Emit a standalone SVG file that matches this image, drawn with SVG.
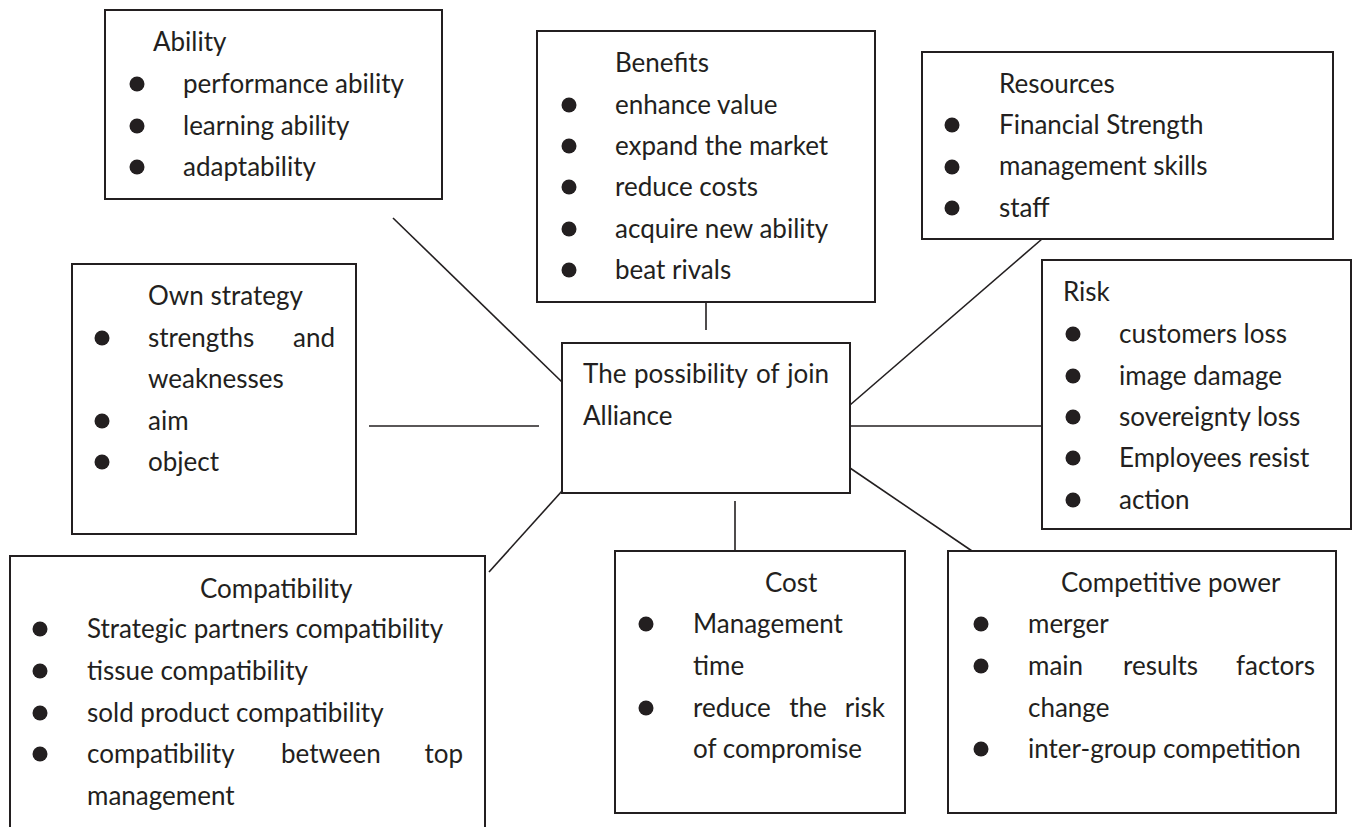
<svg xmlns="http://www.w3.org/2000/svg" width="1356" height="827" viewBox="0 0 1356 827">
<style>
.box{fill:#fff;stroke:#231f20;stroke-width:2}
.t{font-family:Lato,"Open Sans","Liberation Sans",sans-serif;font-size:26px;fill:#231f20}
.e{text-anchor:end}
.m{text-anchor:middle}
.b{fill:#231f20}
.c{stroke:#231f20;stroke-width:1.6;fill:none}
</style>
<rect width="1356" height="827" fill="#fff"/>
<g id="connectors">
<line class="c" x1="393" y1="218" x2="562" y2="382"/>
<line class="c" x1="706" y1="302" x2="706" y2="330"/>
<line class="c" x1="1042" y1="239" x2="850" y2="405"/>
<line class="c" x1="369" y1="426" x2="539" y2="426"/>
<line class="c" x1="850" y1="426" x2="1042" y2="426"/>
<line class="c" x1="562" y1="491" x2="489" y2="572"/>
<line class="c" x1="735" y1="501" x2="735" y2="550"/>
<line class="c" x1="850" y1="468" x2="972" y2="551"/>
</g>
<g id="ability">
<rect class="box" x="105" y="10" width="337" height="189"/>
<text class="t" x="153" y="51">Ability</text>
<circle class="b" cx="137" cy="84" r="7.5"/><text class="t" x="183" y="93">performance ability</text>
<circle class="b" cx="137" cy="126" r="7.5"/><text class="t" x="183" y="135">learning ability</text>
<circle class="b" cx="137" cy="167" r="7.5"/><text class="t" x="183" y="176">adaptability</text>
</g>
<g id="benefits">
<rect class="box" x="537" y="31" width="338" height="271"/>
<text class="t" x="615" y="72">Benefits</text>
<circle class="b" cx="569" cy="105" r="7.5"/><text class="t" x="615" y="114">enhance value</text>
<circle class="b" cx="569" cy="146" r="7.5"/><text class="t" x="615" y="155">expand the market</text>
<circle class="b" cx="569" cy="187" r="7.5"/><text class="t" x="615" y="196">reduce costs</text>
<circle class="b" cx="569" cy="229" r="7.5"/><text class="t" x="615" y="238">acquire new ability</text>
<circle class="b" cx="569" cy="270" r="7.5"/><text class="t" x="615" y="279">beat rivals</text>
</g>
<g id="resources">
<rect class="box" x="922" y="52" width="411" height="187"/>
<text class="t" x="999" y="93">Resources</text>
<circle class="b" cx="952" cy="125" r="7.5"/><text class="t" x="999" y="134">Financial Strength</text>
<circle class="b" cx="952" cy="167" r="7.5"/><text class="t" x="999" y="175">management skills</text>
<circle class="b" cx="952" cy="208" r="7.5"/><text class="t" x="999" y="217">staff</text>
</g>
<g id="own-strategy">
<rect class="box" x="72" y="264" width="284" height="270"/>
<text class="t" x="148" y="305">Own strategy</text>
<circle class="b" cx="102" cy="338" r="7.5"/><text class="t" x="148" y="347">strengths</text><text class="t e" x="335" y="347">and</text>
<text class="t" x="148" y="388">weaknesses</text>
<circle class="b" cx="102" cy="421" r="7.5"/><text class="t" x="148" y="430">aim</text>
<circle class="b" cx="102" cy="462" r="7.5"/><text class="t" x="148" y="471">object</text>
</g>
<g id="center">
<rect class="box" x="562" y="343" width="288" height="150"/>
<text class="t" x="583" y="383">The</text><text class="t" x="634" y="383">possibility</text><text class="t" x="756" y="383">of</text><text class="t e" x="829" y="383">join</text>
<text class="t" x="583" y="425">Alliance</text>
</g>
<g id="risk">
<rect class="box" x="1042" y="260" width="309" height="269"/>
<text class="t" x="1063" y="301">Risk</text>
<circle class="b" cx="1073" cy="334" r="7.5"/><text class="t" x="1119" y="343">customers loss</text>
<circle class="b" cx="1073" cy="376" r="7.5"/><text class="t" x="1119" y="385">image damage</text>
<circle class="b" cx="1073" cy="417" r="7.5"/><text class="t" x="1119" y="426">sovereignty loss</text>
<circle class="b" cx="1073" cy="458" r="7.5"/><text class="t" x="1119" y="467">Employees resist</text>
<circle class="b" cx="1073" cy="500" r="7.5"/><text class="t" x="1119" y="509">action</text>
</g>
<g id="compatibility">
<rect class="box" x="10" y="556" width="475" height="290"/>
<text class="t" x="200" y="598">Compatibility</text>
<circle class="b" cx="40" cy="629" r="7.5"/><text class="t" x="87" y="638">Strategic partners compatibility</text>
<circle class="b" cx="40" cy="671" r="7.5"/><text class="t" x="87" y="680">tissue compatibility</text>
<circle class="b" cx="40" cy="713" r="7.5"/><text class="t" x="87" y="722">sold product compatibility</text>
<circle class="b" cx="40" cy="754" r="7.5"/><text class="t" x="87" y="763">compatibility</text><text class="t" x="281" y="763">between</text><text class="t e" x="463" y="763">top</text>
<text class="t" x="87" y="805">management</text>
</g>
<g id="cost">
<rect class="box" x="615" y="551" width="290" height="262"/>
<text class="t" x="765" y="592">Cost</text>
<circle class="b" cx="646" cy="624" r="7.5"/><text class="t" x="693" y="633">Management</text>
<text class="t" x="693" y="675">time</text>
<circle class="b" cx="646" cy="708" r="7.5"/><text class="t" x="693" y="717">reduce</text><text class="t m" x="808" y="717">the</text><text class="t e" x="885" y="717">risk</text>
<text class="t" x="693" y="758">of compromise</text>
</g>
<g id="competitive-power">
<rect class="box" x="948" y="551" width="388" height="262"/>
<text class="t" x="1061" y="592">Competitive power</text>
<circle class="b" cx="981" cy="624" r="7.5"/><text class="t" x="1028" y="633">merger</text>
<circle class="b" cx="981" cy="666" r="7.5"/><text class="t" x="1028" y="675">main</text><text class="t" x="1123" y="675">results</text><text class="t e" x="1315" y="675">factors</text>
<text class="t" x="1028" y="717">change</text>
<circle class="b" cx="981" cy="749" r="7.5"/><text class="t" x="1028" y="758">inter-group competition</text>
</g>
</svg>
